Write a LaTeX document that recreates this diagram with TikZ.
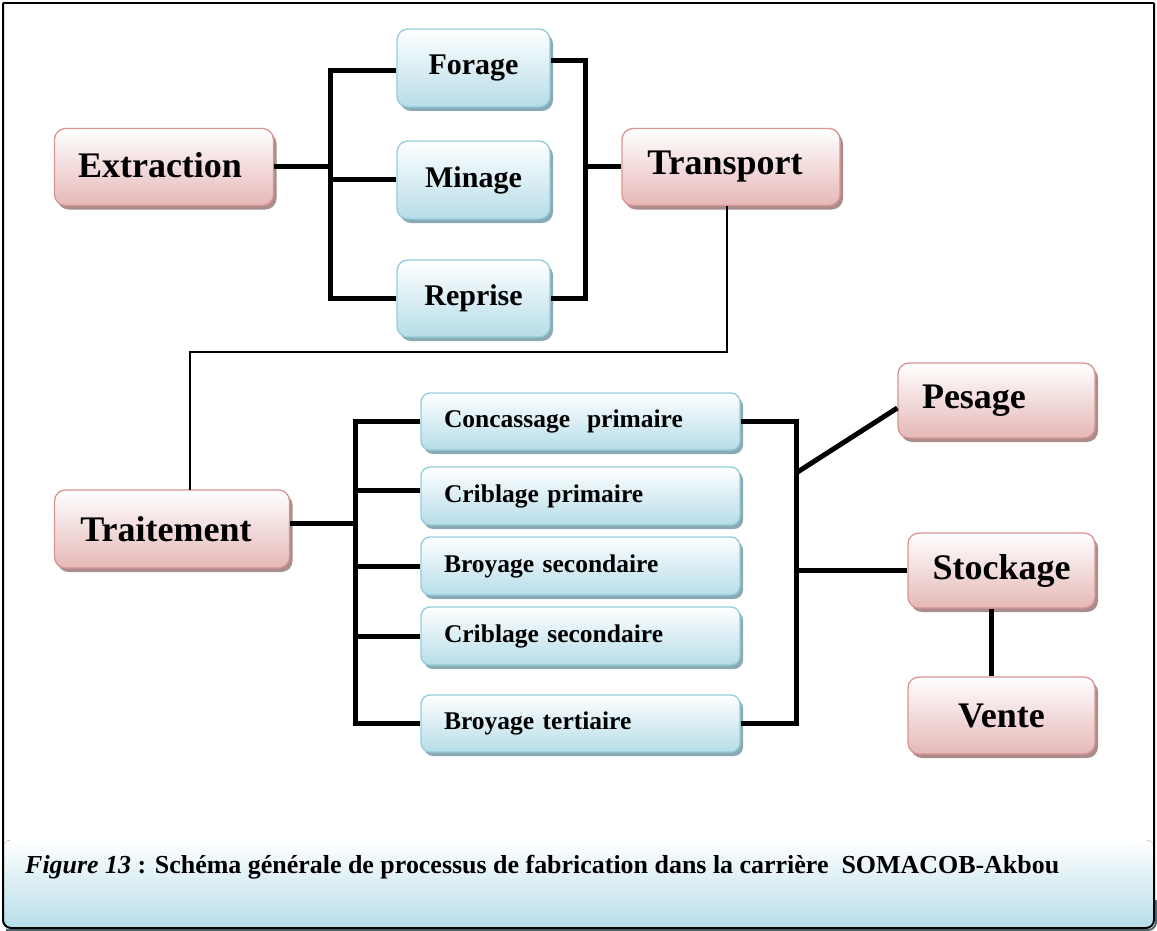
\documentclass[tikz,border=0pt]{standalone}
\usepackage{fontspec}
\setmainfont{Liberation Serif}
\usetikzlibrary{shadows}
\definecolor{pinkbot}{HTML}{E5B8B7}
\definecolor{pinkline}{HTML}{D99594}
\definecolor{pinkshad}{HTML}{A98C8C}
\definecolor{bluebot}{HTML}{B6DDE8}
\definecolor{blueline}{HTML}{92CDDC}
\definecolor{blueshad}{HTML}{8AA9B3}
\definecolor{capshad}{HTML}{4F6770}
\tikzset{
  pinkbox/.style={draw=pinkline, line width=1.3pt, rounded corners=11pt,
    top color=white, bottom color=pinkbot,
    drop shadow={shadow xshift=3pt, shadow yshift=-4pt, fill=pinkshad, opacity=1},
    font=\fontsize{36}{40}\selectfont\bfseries, inner sep=0pt},
  bluebig/.style={draw=blueline, line width=1.3pt, rounded corners=11pt,
    top color=white, bottom color=bluebot,
    drop shadow={shadow xshift=3pt, shadow yshift=-4pt, fill=blueshad, opacity=1},
    font=\fontsize{30}{34}\selectfont\bfseries, inner sep=0pt,
    minimum width=153pt},
  bluesmall/.style={draw=blueline, line width=1.3pt, rounded corners=9pt,
    top color=white, bottom color=bluebot,
    drop shadow={shadow xshift=3pt, shadow yshift=-4pt, fill=blueshad, opacity=1},
    font=\fontsize{25.5}{28}\selectfont\bfseries, inner ysep=0pt, inner xsep=23pt,
    text width=273pt, align=left, minimum height=57pt},
  bus/.style={line width=5pt, line join=miter, black},
  thinline/.style={line width=1.8pt, black},
  frame/.style={line width=2pt, black}
}
\begin{document}
\begin{tikzpicture}[x=1pt,y=-1pt]
\useasboundingbox (0,0) rectangle (1157,931);
% caption area
\fill[top color=white, bottom color=bluebot, rounded corners=8pt] (3,840) rectangle (1154,928);
\draw[capshad, line width=2pt, rounded corners=8pt] (6,930) -- (1156,930) -- (1156,900);
\node[anchor=base west, inner sep=0pt] (cap) at (25,873)
  {\resizebox{1034pt}{!}{\fontsize{25}{28}\selectfont\textbf{\textit{Figure 13} : Schéma générale de processus de fabrication dans la carrière\ \ SOMACOB-Akbou}}};
\draw[frame] (3,3) -- (1154,3);
\draw[frame, rounded corners=8pt] (3,3) -- (3,928) -- (1154,928) -- (1154,3);

% top group
\node[pinkbox, minimum width=219pt, minimum height=77pt] (extr) at (164,167) {\hspace*{-8pt}\raisebox{3pt}{Extraction}};
\node[pinkbox, minimum width=218pt, minimum height=77pt] (transp) at (731,167) {\hspace*{-12pt}\raisebox{3pt}{Transport}};
\node[bluebig, minimum height=78pt] (forage) at (473.5,68) {\raisebox{3pt}{Forage}};
\node[bluebig, minimum height=78pt] (minage) at (473.5,180) {\raisebox{3pt}{Minage}};
\node[bluebig, minimum height=77pt] (reprise) at (473.5,298.5) {\raisebox{2pt}{Reprise}};

\draw[bus] (extr.east) -- (330,167);
\draw[bus] ([yshift=-3pt]forage.west) -- (330,71) -- (330,298.5) -- (reprise.west);
\draw[bus] (minage.west) -- (330,180);
\draw[bus] ([yshift=7pt]forage.east) -- (585,61) -- (585,298.5) -- (reprise.east);
\draw[bus] (585,167) -- (transp.west);

% traitement group
\node[pinkbox, minimum width=235pt, minimum height=78pt] (trait) at (172,529) {\hspace*{-12pt}Traitement};
\draw[thinline] ([xshift=-4pt]transp.south) -- (727,352) -- (190,352) -- (190,490);

\node[bluesmall] (conc) at (580.5,421.5) {Concassage\ \ primaire};
\node[bluesmall, minimum height=58pt] (cribp) at (580.5,496) {Criblage primaire};
\node[bluesmall, minimum height=58pt] (broys) at (580.5,566) {Broyage secondaire};
\node[bluesmall, minimum height=58pt] (cribs) at (580.5,636) {Criblage secondaire};
\node[bluesmall] (broyt) at (580.5,723.5) {Broyage tertiaire};

\draw[bus] ([yshift=6pt]trait.east) -- (355,523);
\draw[bus] (conc.west) -- (355,421.5) -- (355,723.5) -- (broyt.west);
\draw[bus] ([yshift=6pt]cribp.west) -- (355,490);
\draw[bus] (broys.west) -- (355,566);
\draw[bus] (cribs.west) -- (355,636);

\node[pinkbox, minimum height=75pt, text width=149pt, inner xsep=24pt, align=left] (pesage) at (996.5,400.5) {\raisebox{2pt}{Pesage}};
\node[pinkbox, minimum width=187pt, minimum height=75pt] (stock) at (1001.5,570.5) {Stockage};
\node[pinkbox, minimum width=187pt, minimum height=77pt] (vente) at (1001.5,715.5) {Vente};

\draw[bus] (conc.east) -- (796,421.5) -- (796,723.5) -- (broyt.east);
\draw[bus] (796,473) -- ([yshift=-7.5pt]pesage.west);
\draw[bus] (796,570.5) -- (stock.west);
\draw[bus] ([xshift=-10pt]stock.south) -- ([xshift=-10pt]vente.north);
\end{tikzpicture}
\end{document}
